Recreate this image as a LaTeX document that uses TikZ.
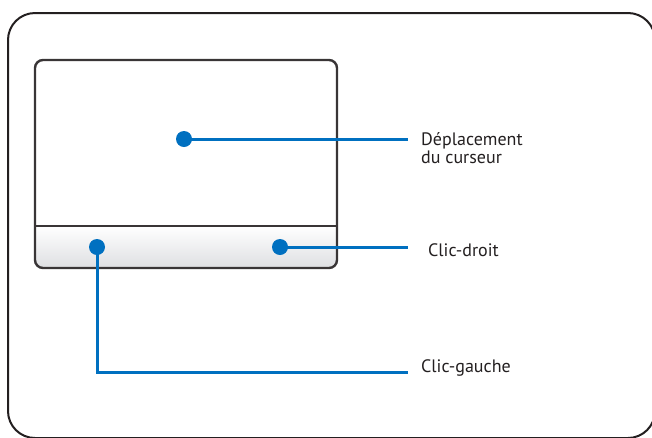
\documentclass[tikz,border=0pt]{standalone}
\usepackage{fontspec}
\setmainfont{PT Sans}
\definecolor{leadblue}{RGB}{0,112,192}
\definecolor{ink}{RGB}{35,31,32}
\definecolor{btngray}{RGB}{222,223,226}
\tikzset{
  frame/.style={draw=ink, line width=2pt, rounded corners=27pt},
  padline/.style={draw=ink!90, line width=2.4pt},
  dot/.style={circle, fill=leadblue, inner sep=0pt, minimum size=16pt},
  lead/.style={draw=leadblue, line width=3pt},
  lbl/.style={text=ink, font=\fontsize{18}{19}\selectfont, inner sep=0pt, align=left}
}
\begin{document}
\begin{tikzpicture}[x=1pt,y=-1pt]
\useasboundingbox (0,0) rectangle (652,437);
\begin{scope}
  \clip (0,0) rectangle (652,437);
  \draw[frame] (8,13) rectangle (655,438);
\end{scope}
% touchpad
\begin{scope}
  \clip[rounded corners=8pt] (35,60) rectangle (337,268);
  \fill[white] (35,60) rectangle (337,226);
  \shade[top color=white, bottom color=btngray] (35,226) rectangle (337,268);
\end{scope}
\draw[padline] (35,226) -- (337,226);
\draw[padline, rounded corners=8pt] (35,60) rectangle (337,268);
% dots
\node[dot] (cur) at (184,139) {};
\node[dot] (lclick) at (97,247) {};
\node[dot] (rclick) at (280,247) {};
% line ends
\coordinate (curend) at (408,139);
\coordinate (rend) at (408,247);
\coordinate (lcorner) at (97,372);
\coordinate (lend) at (408,372);
\draw[lead] (cur.center) -- (curend);
\draw[lead] (rclick.center) -- (rend);
\draw[lead] (lclick.center) -- (lcorner) -- (lend);
% labels
\node[lbl, anchor=base west] (tcur) at (421,145) {Déplacement};
\node[lbl, anchor=base west] (tcur2) at (421,163) {du curseur};
\node[lbl, anchor=base west] (tr) at (428,256) {Clic-droit};
\node[lbl, anchor=base west] (tl) at (421,372) {Clic-gauche};
\end{tikzpicture}
\end{document}
